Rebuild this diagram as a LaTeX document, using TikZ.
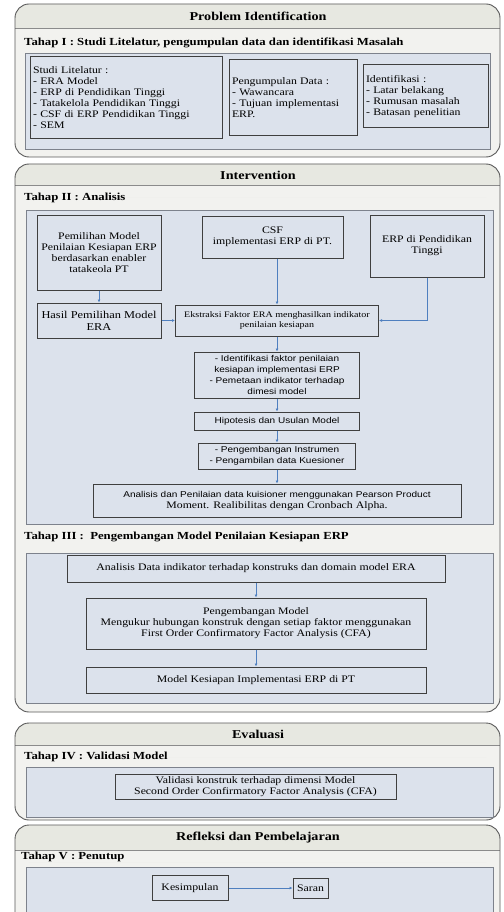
\documentclass[tikz,border=0pt]{standalone}
\usepackage{fontspec}
\setmainfont{Liberation Serif}[FakeStretch=1.18]
\setsansfont{Liberation Sans}[FakeStretch=1.18]
\usetikzlibrary{arrows.meta,calc}
\definecolor{SecFill}{HTML}{F2F2EF}
\definecolor{HeadFill}{HTML}{E7E8E1}
\definecolor{SecLine}{HTML}{5A5A5A}
\definecolor{PanelFill}{HTML}{DCE2EC}
\definecolor{PanelLine}{HTML}{7D828C}
\definecolor{BoxLine}{HTML}{3F3F3F}
\definecolor{FlowBlue}{HTML}{4F7FBF}
\tikzset{
    section/.style = {draw=SecLine, line width=0.9pt, rounded corners=14pt},
    panel/.style = {draw=PanelLine, fill=PanelFill, line width=1pt},
    block/.style = {draw=BoxLine, fill=PanelFill, line width=1pt, rectangle,
        inner sep=3pt, align=center, font=\fontsize{10}{11}\selectfont},
    listblock/.style = {block, align=left},
    sansblock/.style = {block, inner sep=1pt, font=\sffamily\fontsize{8.5}{11}\selectfont},
    title/.style = {font=\bfseries\fontsize{12}{14}\selectfont},
    stage/.style = {anchor=west, inner sep=1pt, font=\bfseries\fontsize{10.8}{12}\selectfont},
    flow/.style = {draw=FlowBlue, line width=0.6pt, -{Latex[length=3pt,width=3pt]}}
}
\begin{document}
\begin{tikzpicture}[x=1pt,y=-1pt]
\useasboundingbox (0,0) rectangle (503,912);
\clip (0,0) rectangle (503,912);
\fill[white] (0,0) rectangle (503,912);
\foreach \top/\hl/\bot in {4/28/157,164/185/712,723/745/820,825/850/940}{
    \fill[SecFill, rounded corners=14pt] (15,\top) rectangle (500,\bot);
    \fill[HeadFill, rounded corners=14pt] (15,\top) rectangle (500,\hl+12);
    \fill[SecFill] (15,\hl) rectangle (500,\hl+12);
    \draw[SecLine!70, line width=0.8pt] (15,\hl) -- (500,\hl);
    \draw[section] (15,\top) rectangle (500,\bot);
}
\node[title] (t1) at (258,16) {Problem Identification};
\node[title] (t2) at (258,175) {Intervention};
\node[title] (t3) at (258,734) {Evaluasi};
\node[title] (t4) at (258,838) {Refleksi dan Pembelajaran};
\node[stage] (s1) at (23,43) {Tahap I : Studi Litelatur, pengumpulan data dan identifikasi Masalah};
\node[stage] (s2) at (23,198) {Tahap II : Analisis};
\node[stage] (s3) at (23,537) {Tahap III :\ \ Pengembangan Model Penilaian Kesiapan ERP};
\node[stage] (s4) at (23,757) {Tahap IV : Validasi Model};
\node[stage] (s5) at (20,857) {Tahap V : Penutup};
\draw[panel] (25,54) rectangle (490,150);
\draw[panel] (26,210) rectangle (493,524);
\draw[panel] (26,553) rectangle (493,703);
\draw[panel] (26,767) rectangle (493,817);
\draw[panel] (26,867) rectangle (493,930);
\node[listblock, text width=186pt, minimum height=82pt] (lit) at (126,98) {Studi Litelatur :\\- ERA Model\\- ERP di Pendidikan Tinggi\\- Tatakelola Pendidikan Tinggi\\- CSF di ERP Pendidikan Tinggi\\- SEM};
\node[listblock, text width=122pt, minimum height=76pt] (kumpul) at (293,98) {Pengumpulan Data :\\- Wawancara\\- Tujuan implementasi\\ERP.};
\node[listblock, text width=119pt, minimum height=63pt] (identi) at (425.5,96.5) {Identifikasi :\\- Latar belakang\\- Rumusan masalah\\- Batasan penelitian};
\node[block, minimum width=124pt, minimum height=75pt] (pilih) at (99,252.5) {Pemilihan Model\\Penilaian Kesiapan ERP\\berdasarkan enabler\\tatakeola PT};
\node[block, minimum width=141pt, minimum height=42pt] (csf) at (272.5,237) {CSF\\implementasi ERP di PT.};
\node[block, minimum width=114pt, minimum height=62pt] (erppt) at (427,246) {ERP di Pendidikan\\Tinggi};
\node[block, minimum width=124pt, minimum height=35pt, font=\fontsize{10.5}{12}\selectfont] (hasil) at (99,320.5) {Hasil Pemilihan Model\\ERA};
\node[block, minimum width=203pt, minimum height=31pt, font=\fontsize{8.5}{10}\selectfont] (ekstr) at (277,320.5) {Ekstraksi Faktor ERA menghasilkan indikator\\penilaian kesiapan};
\node[sansblock, minimum width=165pt, minimum height=46pt] (faktor) at (277,375) {- Identifikasi faktor penilaian\\kesiapan implementasi ERP\\- Pemetaan indikator terhadap\\dimesi model};
\node[sansblock, minimum width=165pt, minimum height=18pt] (hipo) at (277,421) {Hipotesis dan Usulan Model};
\node[sansblock, minimum width=157pt, minimum height=26pt] (instr) at (277,456) {- Pengembangan Instrumen\\- Pengambilan data Kuesioner};
\node[block, minimum width=368pt, minimum height=33pt] (anal) at (277,500.5) {{\sffamily\fontsize{8.5}{11}\selectfont Analisis dan Penilaian data kuisioner menggunakan Pearson Product}\\Moment. Realibilitas dengan Cronbach Alpha.};
\node[block, minimum width=378pt, minimum height=27pt] (adata) at (256,568.5) {Analisis Data indikator terhadap konstruks dan domain model ERA};
\node[block, minimum width=340pt, minimum height=51pt] (pengem) at (256,623.5) {Pengembangan Model\\Mengukur hubungan konstruk dengan setiap faktor menggunakan\\First Order Confirmatory Factor Analysis (CFA)};
\node[block, minimum width=340pt, minimum height=26pt] (model) at (256,680) {Model Kesiapan Implementasi ERP di PT};
\node[block, minimum width=281pt, minimum height=25pt, inner sep=1pt] (valid) at (255.5,786.5) {Validasi konstruk terhadap dimensi Model\\Second Order Confirmatory Factor Analysis (CFA)};
\node[block, minimum width=76pt, minimum height=25pt] (kesim) at (190,888) {Kesimpulan};
\node[block, minimum width=35pt, minimum height=20pt, inner sep=1pt] (saran) at (310.5,888) {Saran};
\draw[flow] (pilih) -- (hasil);
\draw[flow] (ekstr.north |- csf.south) -- (ekstr.north);
\draw[flow] (erppt.south) |- (ekstr.east);
\draw[flow] (hasil) -- (ekstr);
\draw[flow] (ekstr) -- (faktor);
\draw[flow] (faktor) -- (hipo);
\draw[flow] (hipo) -- (instr);
\draw[flow] (instr) -- (anal);
\draw[flow] (adata) -- (pengem);
\draw[flow] (pengem) -- (model);
\draw[flow] (kesim) -- (saran);
\end{tikzpicture}
\end{document}
